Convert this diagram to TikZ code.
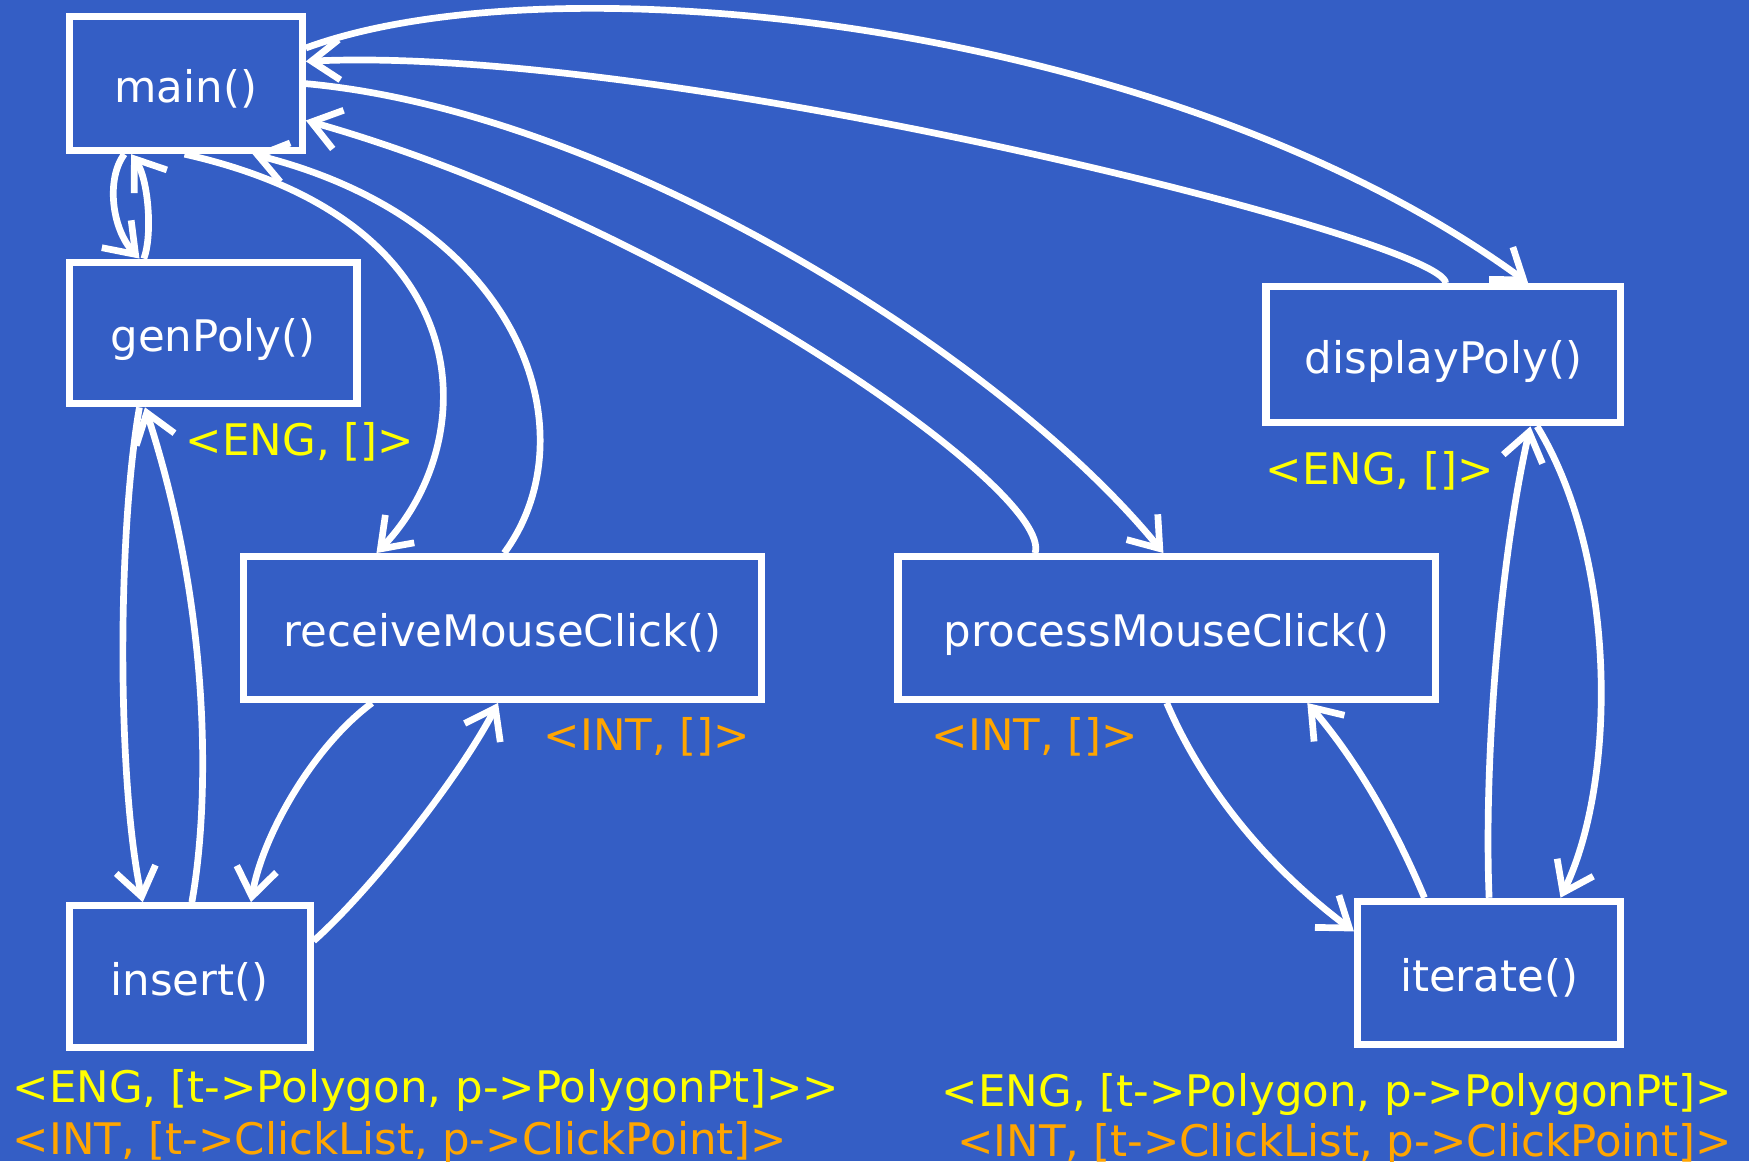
\documentclass[tikz,border=0pt]{standalone}
\usepackage{fontspec}
\setmainfont{DejaVu Sans}
\usetikzlibrary{arrows.meta,calc}
\definecolor{bg}{RGB}{52,94,197}
\definecolor{engc}{RGB}{255,255,0}
\definecolor{intc}{RGB}{255,165,0}
\tikzset{
  fn/.style={draw=white, line width=3.2pt, fill=bg, text=white, inner sep=0pt,
    font=\fontsize{19.5}{23}\selectfont},
  call/.style={draw=white, line width=3pt,
    -{Straight Barb[length=12.5pt,width=18pt,line width=3pt]}},
  tag/.style={font=\fontsize{19.5}{23}\selectfont, inner sep=0pt},
  eng/.style={tag, text=engc},
  int/.style={tag, text=intc}
}
% function names sit a little below the middle of their boxes
\newcommand{\fname}[1]{\raisebox{-2.5pt}[15pt][3pt]{#1}}
\begin{document}
\begin{tikzpicture}[x=0.5pt,y=-0.5pt]
  \fill[bg] (0,0) rectangle (1568,1041);
  \useasboundingbox (0,0) rectangle (1568,1041);

  % functions
  \node[fn, minimum width=104.5pt, minimum height=60pt]   (main)   at (166.5,75)  {\fname{main()}};
  \node[fn, minimum width=129pt,   minimum height=63.5pt] (gen)    at (191,298.5) {\fname{genPoly()}};
  \node[fn, minimum width=232.5pt, minimum height=64pt]   (recv)   at (450.5,563) {\fname{receiveMouseClick()}};
  \node[fn, minimum width=241pt,   minimum height=64pt]   (proc)   at (1046,563)  {\fname{processMouseClick()}};
  \node[fn, minimum width=159pt,   minimum height=61pt]   (disp)   at (1294,318)  {\fname{displayPoly()}};
  \node[fn, minimum width=108pt,   minimum height=63.5pt] (ins)    at (170,875.5) {\fname{insert()}};
  \node[fn, minimum width=118pt,   minimum height=64pt]   (iter)   at (1335,872)  {\fname{iterate()}};

  % contexts
  \node[eng] (lgen)  at (269,396)  {<ENG, []>};
  \node[eng] (ldisp) at (1237,422) {<ENG, []>};
  \node[int] (lrecv) at (580,661)  {<INT, []>};
  \node[int] (lproc) at (928,661)  {<INT, []>};
  \node[eng, anchor=west] (lins1)  at (11,978)   {<ENG, [t->Polygon, p->PolygonPt]>{}>};
  \node[int, anchor=west] (lins2)  at (11,1024)  {<INT, [t->ClickList, p->ClickPoint]>};
  \node[eng, anchor=east] (liter1) at (1553,981) {<ENG, [t->Polygon, p->PolygonPt]>};
  \node[int, anchor=east] (liter2) at (1553,1026) {<INT, [t->ClickList, p->ClickPoint]>};

  % calls between main and displayPoly
  \draw[call] ($(main.east)+(0,-32)$) .. controls (500,-40) and (1050,20) .. ($(disp.north)+(76,0)$);
  \draw[call] ($(disp.north)+(2,0)$) .. controls (1296,215) and (600,40) .. ($(main.east)+(0,-20)$);

  % calls between main and processMouseClick
  \draw[call] (main.east) .. controls (550,100) and (900,320) .. ($(proc.north)+(-3,0)$);
  \draw[call] ($(proc.north)+(-118,0)$) .. controls (945,440) and (600,200) .. ($(main.east)+(0,33)$);

  % calls between main and receiveMouseClick
  \draw[call] ($(main.south)+(-1,0)$) .. controls (440,200) and (430,400) .. ($(recv.north)+(-113,0)$);
  \draw[call] ($(recv.north)+(1.5,0)$) .. controls (530,390) and (470,200) .. ($(main.south)+(60,0)$);

  % calls between main and genPoly
  \draw[call] ($(main.south)+(-55,0)$) .. controls (95,160) and (100,205) .. ($(gen.north)+(-66,0)$);
  \draw[call] ($(gen.north)+(-62,0)$) .. controls (137,210) and (133,160) .. ($(main.south)+(-49,0)$);

  % calls between genPoly and insert
  \draw[call] ($(gen.south)+(-66,0)$) .. controls (105,480) and (105,700) .. ($(ins.north)+(-42,0)$);
  \draw[call] ($(ins.north)+(2,0)$) .. controls (188,720) and (190,550) .. ($(gen.south)+(-61,0)$);

  % calls between receiveMouseClick and insert
  \draw[call] ($(recv.south)+(-117,0)$) .. controls (280,670) and (235,750) .. ($(ins.north)+(55,0)$);
  \draw[call] ($(ins.east)+(0,-32)$) .. controls (330,800) and (410,700) .. ($(recv.south)+(-4,0)$);

  % calls between processMouseClick and iterate
  \draw[call] (proc.south) .. controls (1080,710) and (1140,780) .. ($(iter.west)+(0,-37)$);
  \draw[call] ($(iter.north)+(-58,0)$) .. controls (1250,740) and (1215,680) .. ($(proc.south)+(126,0)$);

  % calls between iterate and displayPoly
  \draw[call] (iter.north) .. controls (1330,680) and (1345,500) .. ($(disp.south)+(78,0)$);
  \draw[call] ($(disp.south)+(84,0)$) .. controls (1450,500) and (1450,700) .. ($(iter.north)+(64,0)$);
\end{tikzpicture}
\end{document}
